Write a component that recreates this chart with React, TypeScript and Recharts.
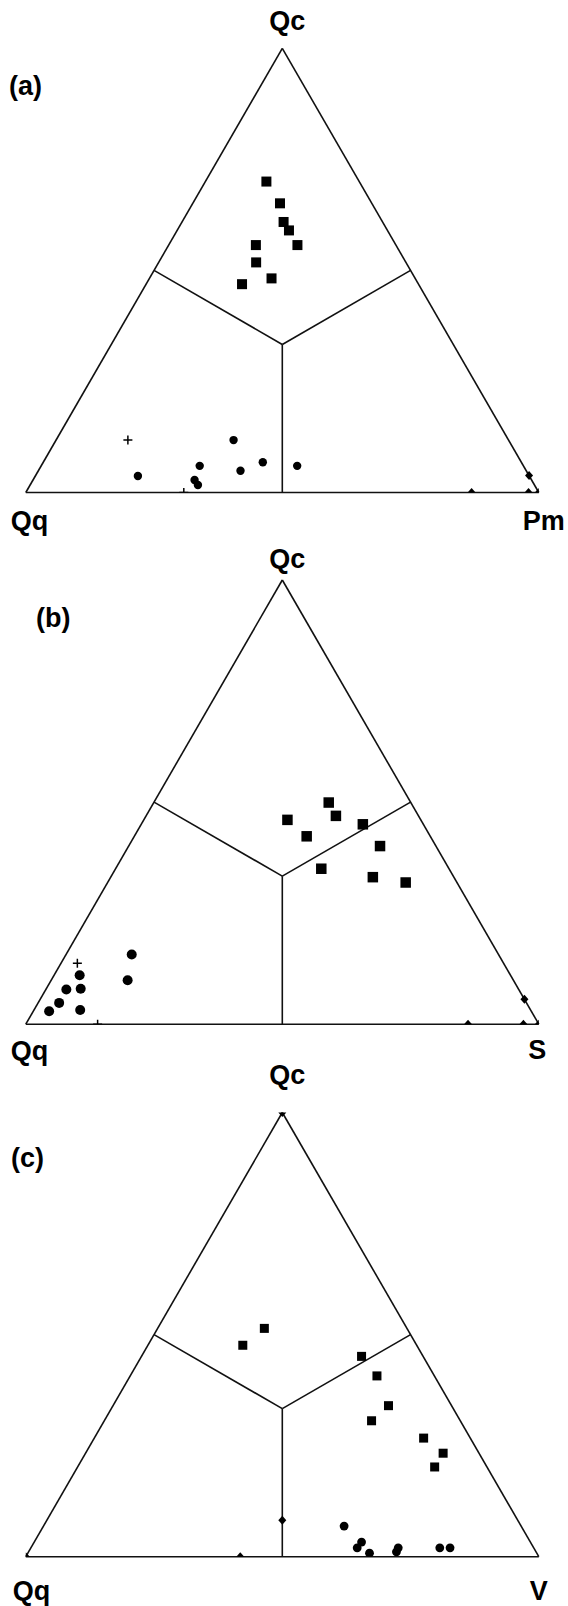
import React from 'react';
import { ScatterChart, Scatter, XAxis, YAxis, ReferenceLine, ReferenceDot } from 'recharts';

// ternary compositions as [top, left, right] = [Qc, Qq, Pm|S|V] in %
type Tern = [number, number, number];

const panelLetters = ['(a)', '(b)', '(c)'];
const topNames = ['Qc', 'Qc', 'Qc'];
const leftNames = ['Qq', 'Qq', 'Qq'];
const rightNames = ['Pm', 'S', 'V'];

// (a) Qc - Qq - Pm
const squaresA: Tern[] = [
  [70.0, 18.1, 11.9], [65.1, 17.9, 17.0], [60.9, 19.3, 19.8], [59.0, 19.2, 21.8], [55.7, 19.2, 25.1],
  [55.7, 27.3, 17.0], [51.8, 29.2, 19.0], [48.2, 28.0, 23.8], [46.9, 34.4, 18.7],
];
const circlesA: Tern[] = [
  [3.7, 76.3, 20.0], [6.0, 63.1, 30.9], [2.8, 65.7, 31.5], [1.7, 65.6, 32.7],
  [11.8, 53.6, 34.6], [4.9, 55.7, 39.4], [6.8, 50.4, 42.8], [6.0, 44.1, 49.9],
];
const plusA: Tern[] = [[11.8, 74.2, 14.0], [0, 69.2, 30.8]];
const diamondsA: Tern[] = [[3.8, 0, 96.2], [0, 13.1, 86.9], [0, 2.0, 98.0], [0, 0, 100]];

// (b) Qc - Qq - S
const squaresB: Tern[] = [
  [49.9, 16.0, 34.1], [46.9, 16.1, 37.0], [46.0, 26.0, 28.0], [42.3, 24.1, 33.6], [45.0, 11.8, 43.2],
  [40.1, 10.9, 49.0], [35.0, 24.9, 40.1], [33.1, 15.8, 51.1], [31.9, 10.0, 58.1],
];
const circlesB: Tern[] = [
  [11.0, 84.0, 5.0], [7.8, 88.2, 4.0], [8.0, 85.3, 6.7], [4.8, 91.1, 4.1],
  [2.9, 94.0, 3.1], [3.2, 87.8, 9.0], [9.9, 75.2, 14.9], [15.7, 71.5, 12.8],
];
const plusB: Tern[] = [[13.7, 83.1, 3.2], [0, 86.0, 14.0]];
const diamondsB: Tern[] = [[0, 13.8, 86.2], [0, 3.0, 97.0], [0, 0, 100], [5.6, 0, 94.4]];

// (c) Qc - Qq - V
const squaresC: Tern[] = [
  [51.4, 27.8, 20.8], [47.6, 33.9, 18.5], [45.1, 12.0, 42.9], [40.7, 11.2, 48.1], [34.0, 12.3, 53.7],
  [30.6, 17.3, 52.1], [26.7, 9.1, 64.2], [23.3, 7.0, 69.7], [20.2, 10.2, 69.6],
];
const circlesC: Tern[] = [
  [6.9, 34.5, 58.6], [3.3, 32.9, 63.8], [2.0, 34.4, 63.6], [0.8, 32.6, 66.6],
  [2.0, 26.4, 71.6], [1.1, 27.2, 71.7], [2.0, 18.3, 79.7], [2.0, 16.3, 81.7],
];
const plusC: Tern[] = [];
const diamondsC: Tern[] = [[100, 0, 0], [0, 100, 0], [0, 58.2, 41.8], [8.2, 45.9, 45.9]];

// triangle edges and field boundaries (centroid to edge midpoints)
const fieldLines: [Tern, Tern][] = [
  [[100, 0, 0], [0, 100, 0]],
  [[0, 100, 0], [0, 0, 100]],
  [[0, 0, 100], [100, 0, 0]],
  [[1, 1, 1], [1, 1, 0]],
  [[1, 1, 1], [1, 0, 1]],
  [[1, 1, 1], [0, 1, 1]],
];

const H = (Math.sqrt(3) / 2) * 100;

const toXY = ([top, left, right]: Tern) => {
  const s = top + left + right;
  return { x: ((right + top / 2) / s) * 100, y: (top / s) * H };
};

// top = chart offset on page, apex = apex y inside the chart
const panels = [
  {
    top: 0, apex: 48.3, height: 560, sq: 10, r: 4.2,
    squares: squaresA, circles: circlesA, plus: plusA, diamonds: diamondsA,
    labels: [{ dx: 5, dy: -18, anchor: 'middle' }, { dx: -15, dy: 37, anchor: 'start' }, { dx: 26, dy: 37, anchor: 'end' }],
    letter: { x: 9, y: 95 },
  },
  {
    top: 532, apex: 48, height: 560, sq: 10.5, r: 5,
    squares: squaresB, circles: circlesB, plus: plusB, diamonds: diamondsB,
    labels: [{ dx: 5, dy: -12, anchor: 'middle' }, { dx: -15, dy: 36, anchor: 'start' }, { dx: -1.5, dy: 35, anchor: 'middle' }],
    letter: { x: 36, y: 95 },
  },
  {
    top: 1030, apex: 82.5, height: 576, sq: 9, r: 4.4,
    squares: squaresC, circles: circlesC, plus: plusC, diamonds: diamondsC,
    labels: [{ dx: 5, dy: -29, anchor: 'middle' }, { dx: -13, dy: 43, anchor: 'start' }, { dx: 0, dy: 43, anchor: 'middle' }],
    letter: { x: 11, y: 137 },
  },
];

const FONT = '"Liberation Sans", Arial, Helvetica, sans-serif';
const PLOT_H = 444.2;

const App: React.FC = () => {
  return (
    <div style={{ position: 'absolute', left: 0, top: 0, width: 568, height: 1606, background: '#fff', overflow: 'hidden' }}>
      {panels.map((p, i) => {
        const sqShape = (s: any) => (
          <rect x={s.cx - p.sq / 2} y={s.cy - p.sq / 2} width={p.sq} height={p.sq} fill="#000" />
        );
        const circShape = (s: any) => <circle cx={s.cx} cy={s.cy} r={p.r} fill="#000" />;
        const plusShape = (s: any) => (
          <path d={`M${s.cx - 4.5},${s.cy}H${s.cx + 4.5}M${s.cx},${s.cy - 4.5}V${s.cy + 4.5}`} stroke="#000" strokeWidth={1.5} />
        );
        const diaShape = (s: any) => (
          <path d={`M${s.cx},${s.cy - 4.5}L${s.cx + 4},${s.cy}L${s.cx},${s.cy + 4.5}L${s.cx - 4},${s.cy}Z`} fill="#000" />
        );
        const vertices: Tern[] = [[100, 0, 0], [0, 100, 0], [0, 0, 100]];
        const names = [topNames[i], leftNames[i], rightNames[i]];
        return (
          <div key={i} style={{ position: 'absolute', left: 0, top: p.top, width: 568, height: p.height }}>
            <ScatterChart
              width={568}
              height={p.height}
              margin={{ top: p.apex, left: 25.8, right: 29.2, bottom: p.height - p.apex - PLOT_H }}
            >
              <XAxis type="number" dataKey="x" domain={[0, 100]} hide allowDataOverflow />
              <YAxis type="number" dataKey="y" domain={[0, H]} hide allowDataOverflow />
              {fieldLines.map((seg, k) => (
                <ReferenceLine
                  key={k}
                  segment={[toXY(seg[0]), toXY(seg[1])]}
                  stroke="#111"
                  strokeWidth={1.6}
                  ifOverflow="visible"
                />
              ))}
              {vertices.map((v, k) => {
                const pt = toXY(v);
                const lab = p.labels[k];
                return (
                  <ReferenceDot
                    key={'v' + k}
                    x={pt.x}
                    y={pt.y}
                    r={0}
                    fill="none"
                    stroke="none"
                    ifOverflow="visible"
                    label={(lp: any) => {
                      const vb = lp.viewBox || {};
                      return (
                        <text
                          x={vb.x + lab.dx}
                          y={vb.y + lab.dy}
                          textAnchor={lab.anchor}
                          fontFamily={FONT}
                          fontWeight="bold"
                          fontSize={27}
                          fill="#000"
                        >
                          {names[k]}
                        </text>
                      );
                    }}
                  />
                );
              })}
              <Scatter data={p.squares.map(toXY)} shape={sqShape} isAnimationActive={false} />
              <Scatter data={p.circles.map(toXY)} shape={circShape} isAnimationActive={false} />
              <Scatter data={p.plus.map(toXY)} shape={plusShape} isAnimationActive={false} />
              <Scatter data={p.diamonds.map(toXY)} shape={diaShape} isAnimationActive={false} />
            </ScatterChart>
            <svg width={120} height={160} style={{ position: 'absolute', left: 0, top: 0, pointerEvents: 'none' }}>
              <text x={p.letter.x} y={p.letter.y} fontFamily={FONT} fontWeight="bold" fontSize={27} fill="#000">
                {panelLetters[i]}
              </text>
            </svg>
          </div>
        );
      })}
    </div>
  );
};

export default App;
